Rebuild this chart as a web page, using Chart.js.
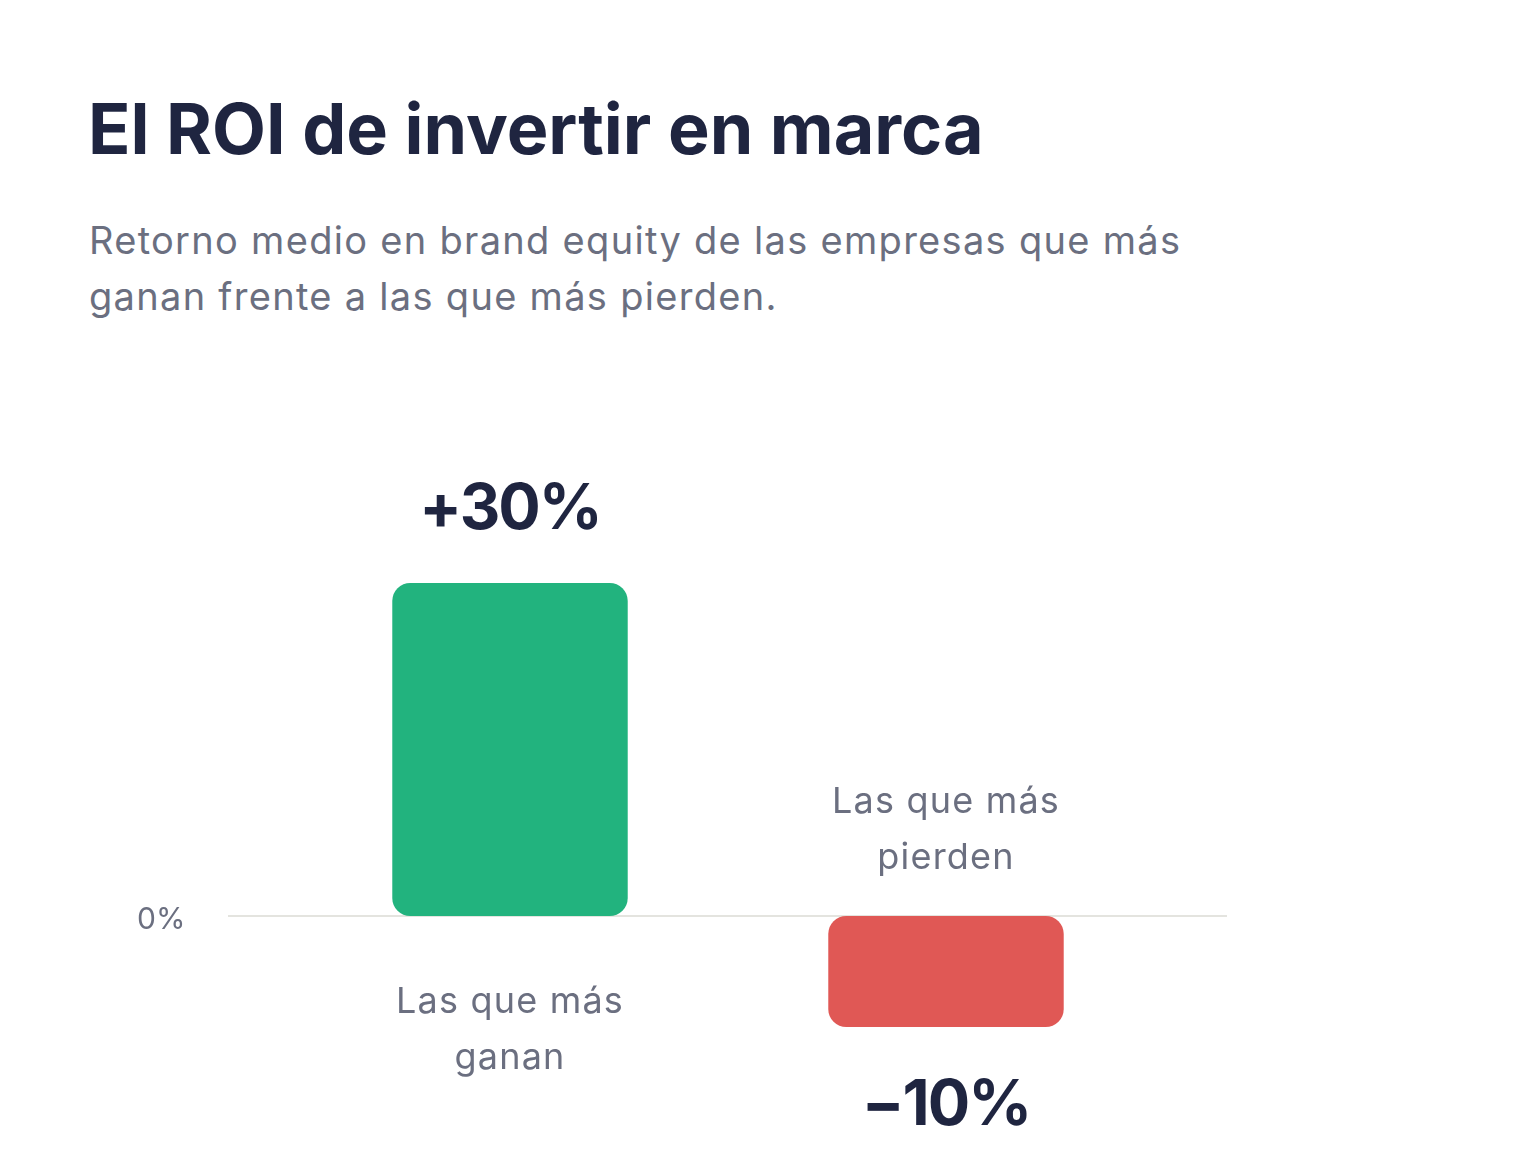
<!DOCTYPE html>
<html lang="es">
<head>
<meta charset="utf-8">
<script src="https://cdn.jsdelivr.net/npm/chart.js@4/dist/chart.umd.min.js"></script>
<style>
  body { margin: 0; background: #fff; width: 1536px; height: 1168px; position: relative; overflow: hidden; font-family: "Inter", "Noto Sans", sans-serif; }
  h1 { position: absolute; left: 88px; top: 86px; margin: 0; font-size: 70px; line-height: 86px; font-weight: 700; color: #1f2540; letter-spacing: 0px; }
  p.sub { position: absolute; left: 89px; top: 212px; margin: 0; width: 1250px; font-size: 38px; line-height: 56px; color: #6b6f80; letter-spacing: 1.3px; }
  #wrap { position: absolute; left: 0; top: 400px; width: 1536px; height: 768px; }
</style>
</head>
<body>
<h1>El ROI de invertir en marca</h1>
<p class="sub">Retorno medio en brand equity de las empresas que más<br>ganan frente a las que más pierden.</p>
<div id="wrap"><canvas id="roiChart"></canvas></div>
<script>
// data
const categories = [["Las que más", "ganan"], ["Las que más", "pierden"]];
const roiValues = [30, -10];
const valueLabels = ["+30%", "−10%"];
const barColors = ["#22b37e", "#e05855"];

// zero line, a little wider than the bars area
const zeroLine = {
  id: "zeroLine",
  beforeDatasetsDraw(chart) {
    const { ctx, chartArea, scales } = chart;
    const y = scales.y.getPixelForValue(0);
    ctx.save();
    ctx.strokeStyle = "#e4e4df";
    ctx.lineWidth = 2;
    ctx.beginPath();
    ctx.moveTo(chartArea.left - 64, y);
    ctx.lineTo(chartArea.right + 63, y);
    ctx.stroke();
    ctx.restore();
  },
};

// value labels and category names, placed by the sign of the bar
const barLabels = {
  id: "barLabels",
  afterDatasetsDraw(chart) {
    const { ctx, scales } = chart;
    const meta = chart.getDatasetMeta(0);
    const zeroY = scales.y.getPixelForValue(0);
    ctx.save();
    ctx.textAlign = "center";
    ctx.textBaseline = "middle";
    meta.data.forEach((bar, i) => {
      const positive = roiValues[i] >= 0;
      ctx.fillStyle = "#1f2540";
      ctx.font = "700 63px Inter, sans-serif";
      ctx.letterSpacing = "-2px";
      const vy = positive ? bar.y - 73 : bar.y + 79;
      ctx.fillText(valueLabels[i], bar.x, vy);

      ctx.fillStyle = "#6b6f80";
      ctx.font = "400 36px Inter, sans-serif";
      ctx.letterSpacing = "1.2px";
      const lines = categories[i];
      lines.forEach((line, j) => {
        const ly = positive
          ? zeroY + 86 + j * 56
          : zeroY - 58 - (lines.length - 1 - j) * 56;
        ctx.fillText(line, bar.x, ly);
      });
    });
    ctx.restore();
  },
};

new Chart(document.getElementById("roiChart"), {
  type: "bar",
  data: {
    labels: categories.map((c) => c.join(" ")),
    datasets: [
      {
        data: roiValues,
        backgroundColor: barColors,
        borderRadius: 18,
        borderSkipped: false,
        barPercentage: 1,
        categoryPercentage: 0.54,
      },
    ],
  },
  options: {
    responsive: true,
    maintainAspectRatio: false,
    animation: false,
    layout: { padding: { top: 72, bottom: 30, right: 372, left: 137 } },
    plugins: { legend: { display: false }, tooltip: { enabled: false } },
    scales: {
      x: { display: false },
      y: {
        min: -20,
        max: 40,
        border: { display: false },
        grid: { display: false, drawTicks: false },
        afterFit: (scale) => { scale.width = 155; },
        ticks: {
          stepSize: 10,
          crossAlign: "far",
          labelOffset: 4,
          color: "#6b6f80",
          font: { family: "Inter", size: 30 },
          callback: (v) => (v === 0 ? "0%" : ""),
        },
      },
    },
  },
  plugins: [zeroLine, barLabels],
});
</script>
</body>
</html>
